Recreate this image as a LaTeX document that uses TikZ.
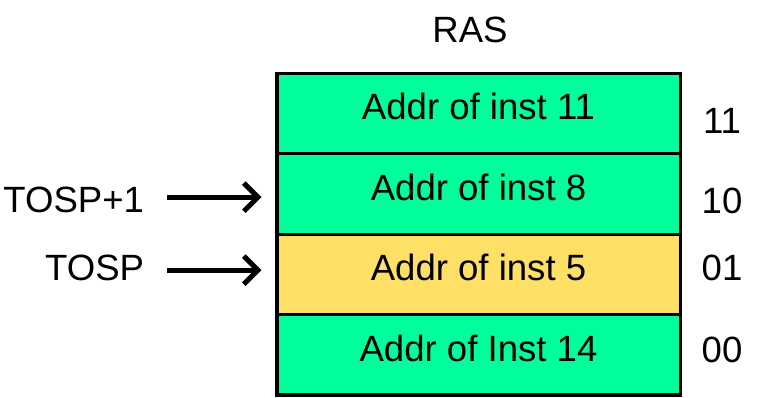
\documentclass[tikz,border=0pt]{standalone}
\usepackage{fontspec}
\setmainfont{Liberation Sans}
\usetikzlibrary{arrows.meta,positioning}
\definecolor{rasgreen}{RGB}{0,255,155}
\definecolor{rasyellow}{RGB}{255,224,102}

\begin{document}
\begin{tikzpicture}[x=0.025cm, y=-0.025cm,
    every node/.style={font=\fontsize{26}{30}\selectfont},
    slot/.style={draw, line width=2.2pt, inner sep=0pt, outer sep=0pt, minimum width=10.075cm, minimum height=2.01cm, text height=19pt, text depth=9.8pt, fill=rasgreen},
    ptr/.style={-{Straight Barb[length=10pt, width=20pt]}, line width=3.6pt, shorten <=13pt, shorten >=11pt}
]
\useasboundingbox (0,0) rectangle (760,397);

\node (ras) at (470,30) {RAS};

% stack entries
\node[slot] (s11) at (478.5,113.5) {Addr of inst 11};
\node[slot, below=0pt of s11] (s10) {Addr of inst 8};
\node[slot, below=0pt of s10, fill=rasyellow] (s01) {Addr of inst 5};
\node[slot, below=0pt of s01] (s00) {Addr of Inst 14};

% index numbers
\node (i11) at (722,121) {11};
\node (i10) at (722,201) {10};
\node (i01) at (722,268) {01};
\node (i00) at (722,350) {00};

% pointers
\node[anchor=east] (tosp1) at (149,200) {TOSP+1};
\node[anchor=east] (tosp) at (149,268) {TOSP};
\draw[ptr] ([yshift=2pt]tosp1.east) -- ([yshift=2pt]tosp1.east -| s10.west);
\draw[ptr] ([yshift=-1.5pt]tosp.east) -- ([yshift=-1.5pt]tosp.east -| s01.west);
\end{tikzpicture}
\end{document}
